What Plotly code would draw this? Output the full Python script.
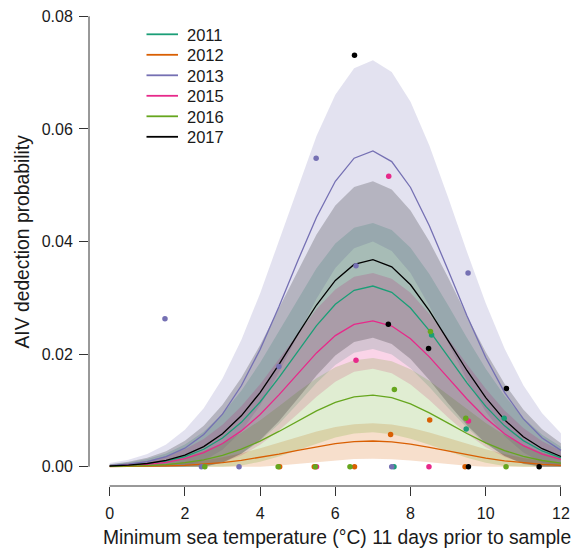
import plotly.graph_objects as go

# ---------------- data ----------------
temp = [0.0, 0.5, 1.0, 1.5, 2.0, 2.5, 3.0, 3.5, 4.0, 4.5, 5.0, 5.5, 6.0,
        6.5, 7.0, 7.5, 8.0, 8.5, 9.0, 9.5, 10.0, 10.5, 11.0, 11.5, 12.0]

years = ["2011", "2012", "2013", "2015", "2016", "2017"]

mean_2011 = [0.00011, 0.00024, 0.00049, 0.00097, 0.00178, 0.0031, 0.00509, 0.00788, 0.01149, 0.01581, 0.0205, 0.02505, 0.02886,
             0.03134, 0.03209, 0.03098, 0.02818, 0.02418, 0.01955, 0.0149, 0.01071, 0.00725, 0.00463, 0.00279, 0.00158]
upper_2011 = [0.00038, 0.00073, 0.00135, 0.00236, 0.00392, 0.00622, 0.00939, 0.01349, 0.01846, 0.02405, 0.02984, 0.03524, 0.03964,
              0.04245, 0.04329, 0.04204, 0.03887, 0.03422, 0.02869, 0.0229, 0.0174, 0.01259, 0.00868, 0.00569, 0.00355]
lower_2011 = [0, 0, 0, 0, 0, 0, 0.0008, 0.00228, 0.00452, 0.00757, 0.01116, 0.01486, 0.01808,
              0.02023, 0.02089, 0.01992, 0.01749, 0.01414, 0.01041, 0.0069, 0.00402, 0.00191, 0.00058, 0, 0]

mean_2012 = [0.00002, 0.00003, 0.00007, 0.00014, 0.00025, 0.00044, 0.00072, 0.00112, 0.00163, 0.00225, 0.00291, 0.00356, 0.0041,
             0.00445, 0.00456, 0.0044, 0.004, 0.00344, 0.00278, 0.00212, 0.00152, 0.00103, 0.00066, 0.0004, 0.00023]
upper_2012 = [0.00007, 0.00013, 0.00024, 0.00042, 0.0007, 0.00111, 0.00167, 0.0024, 0.00328, 0.00428, 0.00531, 0.00627, 0.00705,
              0.00755, 0.0077, 0.00748, 0.00691, 0.00609, 0.0051, 0.00407, 0.0031, 0.00224, 0.00154, 0.00101, 0.00063]
lower_2012 = [0, 0, 0, 0, 0, 0, 0, 0, 0, 0.00022, 0.00052, 0.00085, 0.00115,
              0.00136, 0.00142, 0.00133, 0.0011, 0.00079, 0.00045, 0.00016, 0, 0, 0, 0, 0]

mean_2013 = [0.0002, 0.00044, 0.00091, 0.00178, 0.00329, 0.00571, 0.00933, 0.01438, 0.02083, 0.02842, 0.03654, 0.0443, 0.0507,
             0.0548, 0.0561, 0.0542, 0.0496, 0.0428, 0.0349, 0.0268, 0.0194, 0.0132, 0.0085, 0.0051, 0.0029]
upper_2013 = [0.00064, 0.00123, 0.00225, 0.00393, 0.00654, 0.01038, 0.01565, 0.0225, 0.03078, 0.0401, 0.04975, 0.05876, 0.06609,
              0.07078, 0.07219, 0.07009, 0.06481, 0.05705, 0.04783, 0.03818, 0.02902, 0.021, 0.01447, 0.00949, 0.00593]
lower_2013 = [0, 0, 0, 0, 0.00004, 0.00104, 0.00301, 0.00626, 0.01088, 0.01674, 0.02333, 0.02984, 0.03531,
              0.03882, 0.04001, 0.03831, 0.03439, 0.02855, 0.02197, 0.01542, 0.00978, 0.0054, 0.00253, 0.00071, 0]

mean_2015 = [0.00009, 0.00019, 0.0004, 0.00078, 0.00144, 0.0025, 0.00411, 0.00636, 0.00927, 0.01276, 0.01654, 0.02021, 0.02328,
             0.02529, 0.02589, 0.02499, 0.02274, 0.01951, 0.01577, 0.01203, 0.00864, 0.00585, 0.00374, 0.00225, 0.00128]
upper_2015 = [0.0003, 0.00058, 0.00107, 0.00187, 0.00312, 0.00494, 0.00746, 0.01072, 0.01466, 0.01911, 0.0237, 0.028, 0.03149,
              0.03372, 0.03439, 0.0334, 0.03088, 0.02718, 0.02279, 0.01819, 0.01383, 0.01, 0.00689, 0.00452, 0.00282]
lower_2015 = [0, 0, 0, 0, 0, 0.00006, 0.00076, 0.002, 0.00388, 0.00641, 0.00938, 0.01242, 0.01507,
              0.01686, 0.01739, 0.01658, 0.0146, 0.01184, 0.00875, 0.00587, 0.00345, 0.0017, 0.00059, 0, 0]

mean_2016 = [0.00004, 0.00009, 0.0002, 0.00038, 0.00071, 0.00123, 0.00201, 0.00312, 0.00455, 0.00626, 0.00811, 0.00991, 0.01142,
             0.0124, 0.0127, 0.01226, 0.01115, 0.00957, 0.00773, 0.0059, 0.00424, 0.00287, 0.00183, 0.0011, 0.00063]
upper_2016 = [0.00017, 0.00033, 0.0006, 0.00105, 0.00175, 0.00277, 0.00418, 0.00601, 0.00823, 0.01072, 0.0133, 0.01571, 0.01767,
              0.01892, 0.0193, 0.01874, 0.01732, 0.01525, 0.01279, 0.01021, 0.00776, 0.00561, 0.00387, 0.00254, 0.00158]
lower_2016 = [0, 0, 0, 0, 0, 0, 0, 0.00022, 0.00087, 0.00179, 0.00292, 0.00411, 0.00517,
              0.00588, 0.0061, 0.00578, 0.00498, 0.00389, 0.00267, 0.00159, 0.00072, 0.00013, 0, 0, 0]

mean_2017 = [0.00012, 0.00027, 0.00057, 0.00111, 0.00204, 0.00356, 0.00584, 0.00904, 0.01317, 0.01812, 0.0235, 0.02872, 0.03308,
             0.03593, 0.03679, 0.03551, 0.03231, 0.02772, 0.02241, 0.01709, 0.01228, 0.00832, 0.00531, 0.0032, 0.00181]
upper_2017 = [0.00045, 0.00086, 0.00158, 0.00276, 0.00459, 0.00729, 0.01099, 0.0158, 0.02161, 0.02816, 0.03494, 0.04126, 0.04641,
              0.0497, 0.05069, 0.04922, 0.04551, 0.04006, 0.03359, 0.02681, 0.02038, 0.01474, 0.01016, 0.00667, 0.00416]
lower_2017 = [0, 0, 0, 0, 0, 0, 0.00068, 0.00228, 0.00473, 0.00808, 0.01206, 0.01618, 0.01975,
              0.02216, 0.02289, 0.0218, 0.01911, 0.01538, 0.01123, 0.00737, 0.00418, 0.0019, 0.00046, 0, 0]

# observed points (temperature, detection proportion)
pts_x_2011 = [8.56, 10.49, 9.48, 7.56]
pts_y_2011 = [0.0234, 0.0086, 0.0067, 0.0]
pts_x_2012 = [8.51, 7.47, 4.52, 5.44, 6.51, 9.45]
pts_y_2012 = [0.0083, 0.0057, 0.0, 0.0, 0.0, 0.0]
pts_x_2013 = [1.47, 4.5, 5.49, 6.55, 9.53, 2.44, 3.44, 7.5]
pts_y_2013 = [0.0263, 0.0178, 0.0548, 0.0357, 0.0344, 0.0, 0.0, 0.0]
pts_x_2015 = [7.42, 6.55, 9.54, 5.5, 8.49]
pts_y_2015 = [0.0516, 0.0189, 0.0081, 0.0, 0.0]
pts_x_2016 = [8.53, 7.57, 9.47, 2.53, 4.48, 5.47, 6.39, 10.54]
pts_y_2016 = [0.0240, 0.0137, 0.0086, 0.0, 0.0, 0.0, 0.0, 0.0]
pts_x_2017 = [6.51, 7.41, 8.48, 10.55, 9.54, 11.42]
pts_y_2017 = [0.0731, 0.0253, 0.0210, 0.0139, 0.0, 0.0]

y_ticks = [0.0, 0.02, 0.04, 0.06, 0.08]
x_ticks = [0, 2, 4, 6, 8, 10, 12]

x_title = "Minimum sea temperature (°C) 11 days prior to sample"
y_title = "AIV dedection probability"

# ---------------- styling ----------------
colors = {"2011": "#1B9E77", "2012": "#D95F02", "2013": "#7570B3",
          "2015": "#E7298A", "2016": "#66A61E", "2017": "#000000"}

def rgba(hexcol, a):
    h = hexcol.lstrip("#")
    return "rgba(%d,%d,%d,%.2f)" % (int(h[0:2], 16), int(h[2:4], 16), int(h[4:6], 16), a)

series = {
    "2011": (mean_2011, upper_2011, lower_2011, pts_x_2011, pts_y_2011),
    "2012": (mean_2012, upper_2012, lower_2012, pts_x_2012, pts_y_2012),
    "2013": (mean_2013, upper_2013, lower_2013, pts_x_2013, pts_y_2013),
    "2015": (mean_2015, upper_2015, lower_2015, pts_x_2015, pts_y_2015),
    "2016": (mean_2016, upper_2016, lower_2016, pts_x_2016, pts_y_2016),
    "2017": (mean_2017, upper_2017, lower_2017, pts_x_2017, pts_y_2017),
}

# the page adds an 8px body margin; the figure is sized to fill the rest
OFF = 8
W, H = 579 - OFF, 549 - OFF
ML, MR, MT, MB = 81, 0, 0, 63
PW, PH = W - ML - MR, H - MT - MB

def px2paper(px, py):
    """page pixel -> paper coords"""
    return (px - OFF - ML) / PW, 1 - (py - OFF - MT) / PH

FONT = "Liberation Sans, Arial, Helvetica, sans-serif"
TXT = "#1a1a1a"
fig = go.Figure()

# confidence bands
for yr in years:
    m, up, lo, _, _ = series[yr]
    fig.add_trace(go.Scatter(x=temp, y=up, mode="lines", line=dict(width=0),
                             showlegend=False, hoverinfo="skip"))
    fig.add_trace(go.Scatter(x=temp, y=lo, mode="lines", line=dict(width=0),
                             fill="tonexty", fillcolor=rgba(colors[yr], 0.2),
                             showlegend=False, hoverinfo="skip"))

# mean curves
for yr in years:
    m = series[yr][0]
    fig.add_trace(go.Scatter(x=temp, y=m, mode="lines", name=yr, showlegend=False,
                             line=dict(color=colors[yr], width=1.3)))

# observed points
for yr in years:
    px_, py_ = series[yr][3], series[yr][4]
    fig.add_trace(go.Scatter(x=px_, y=py_, mode="markers", showlegend=False,
                             marker=dict(color=colors[yr], size=5.5, line=dict(width=0))))

# legend (drawn in the plot, R style)
for i, yr in enumerate(years):
    ly = 34.3 + i * 20.5
    x0, y0 = px2paper(146.5, ly)
    x1, _ = px2paper(178, ly)
    fig.add_shape(type="line", xref="paper", yref="paper", x0=x0, x1=x1, y0=y0, y1=y0,
                  line=dict(color=colors[yr], width=1.8))
    tx, ty = px2paper(184.5, ly + 0.5)
    fig.add_annotation(xref="paper", yref="paper", x=tx, y=ty, text=yr, showarrow=False,
                       xanchor="left", yanchor="middle",
                       font=dict(size=16.5, family=FONT, color=TXT))

# axis titles
tx, ty = px2paper(336.5, 537)
fig.add_annotation(xref="paper", yref="paper", x=tx, y=ty, text=x_title, showarrow=False,
                   xanchor="center", yanchor="middle", font=dict(size=19.3, family=FONT, color=TXT))
tx, ty = px2paper(22, 241.5)
fig.add_annotation(xref="paper", yref="paper", x=tx, y=ty, text=y_title, showarrow=False,
                   textangle=-90, xanchor="center", yanchor="middle",
                   font=dict(size=19.3, family=FONT, color=TXT))

axis_col = "#333333"
fig.add_shape(type="line", xref="paper", yref="y", x0=0, x1=0,
              y0=y_ticks[0], y1=y_ticks[-1], line=dict(color=axis_col, width=1))
fig.add_shape(type="line", xref="x", yref="paper", x0=x_ticks[0], x1=x_ticks[-1],
              y0=0, y1=0, line=dict(color=axis_col, width=1))

fig.update_layout(
    width=W, height=H,
    margin=dict(l=ML, r=MR, t=MT, b=MB, autoexpand=False),
    paper_bgcolor="white", plot_bgcolor="white",
    font=dict(family=FONT, size=16, color=TXT),
    showlegend=False,
    xaxis=dict(range=[-0.55, 12.48], tickvals=x_ticks, ticks="outside", ticklen=9,
               tickcolor=axis_col, showgrid=False, zeroline=False, showline=False,
               automargin=False, tickfont=dict(size=16), ticklabelstandoff=4,
               ticklabeloverflow="allow"),
    yaxis=dict(range=[-0.00343, 0.08148], tickvals=y_ticks, tickformat=".2f",
               ticks="outside", ticklen=9, tickcolor=axis_col, showgrid=False,
               zeroline=False, showline=False, automargin=False,
               tickfont=dict(size=16), ticklabelstandoff=3,
               ticklabeloverflow="allow"),
)

fig.write_html("out.html")
